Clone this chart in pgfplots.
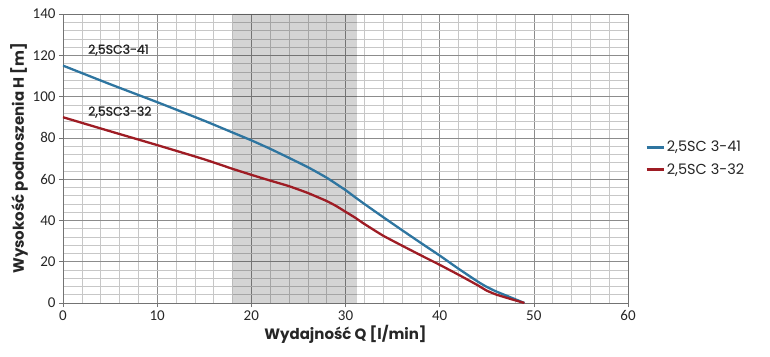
\documentclass[border=0pt]{standalone}
\usepackage{fontspec}
\setmainfont{Poppins}
\newfontfamily\carlito{Carlito}
\newfontfamily\popsemi[FakeBold=1.2]{Poppins}
\usepackage{pgfplots}
\pgfplotsset{compat=1.18}
\definecolor{cblue}{RGB}{46,117,160}
\definecolor{cred}{RGB}{158,28,36}
\begin{document}
\begin{tikzpicture}
\begin{axis}[
  at={(0pt,0pt)}, anchor=south west,
  scale only axis, width=565pt, height=289pt,
  xmin=0, xmax=60, ymin=0, ymax=140,
  xtick={0,10,20,30,40,50,60},
  ytick={0,20,40,60,80,100,120,140},
  minor x tick num=4, minor y tick num=4,
  grid=both,
  major grid style={draw=black!45, line width=0.6pt},
  minor grid style={draw=black!22, line width=0.5pt},
  axis line style={draw=black!55, line width=0.8pt},
  tick style={draw=black!55, line width=0.6pt},
  major tick length=4pt, minor tick length=0pt,
  tick align=outside,
  xtick pos=bottom, ytick pos=left,
  ticklabel style={font=\carlito\fontsize{15}{17}\selectfont, text=black!85},
  /pgf/number format/assume math mode=true,
  xlabel={Wydajność Q [l/min]},
  ylabel={Wysokość podnoszenia H [m]},
  label style={font=\bfseries\fontsize{15}{17}\selectfont, text=black!85},
  xlabel style={yshift=2pt},
  ylabel style={yshift=-2pt},
  legend style={draw=none, fill=none, at={(1.025,0.5)}, anchor=west,
    font=\fontsize{14.5}{16}\selectfont, row sep=6pt, text=black!85},
  legend cell align=left,
  legend image post style={line width=2.5pt},
  every axis plot/.append style={line width=2.3pt},
]
\addplot[draw=none, fill=black, fill opacity=0.17, forget plot]
  coordinates {(18,0)(18,140)(31.2,140)(31.2,0)} \closedcycle;
\addplot[cblue, smooth, tension=0.3] coordinates {
(0,115)(5,106)(10,97.3)(15,88.3)(18,82.6)(20,78.8)(22,74.7)(24,70.3)(26,65.8)(28,60.7)(30,54.7)(31,51.3)(32,48)(34,41.6)(36,35.3)(38,29.1)(40,23)(42,16.6)(44,10.5)(45,7.8)(46,5.6)(47.5,2.8)(49,0)};
\addlegendentry{2,5SC 3-41}
\addplot[cred, smooth, tension=0.3] coordinates {
(0,90)(5,83.2)(10,76.5)(15,69.6)(18,65)(20,62.1)(22,59.3)(24,56.6)(26,53.3)(28,49.4)(29,47)(30,44.2)(31,41.4)(32,38.3)(34,32.6)(36,27.8)(38,23.1)(40,18.5)(42,13.7)(44,8.7)(45,6)(46,4.1)(47.5,2)(49,0)};
\addlegendentry{2,5SC 3-32}
\node[anchor=west, font=\popsemi\fontsize{12.5}{14}\selectfont, text=black!85] at (axis cs:2.3,122.5) {2,5SC3-41};
\node[anchor=west, font=\popsemi\fontsize{12.5}{14}\selectfont, text=black!85] at (axis cs:2.3,92.5) {2,5SC3-32};
\end{axis}
\useasboundingbox (-63pt,-53pt) rectangle (707pt,303pt);
\end{tikzpicture}
\end{document}
